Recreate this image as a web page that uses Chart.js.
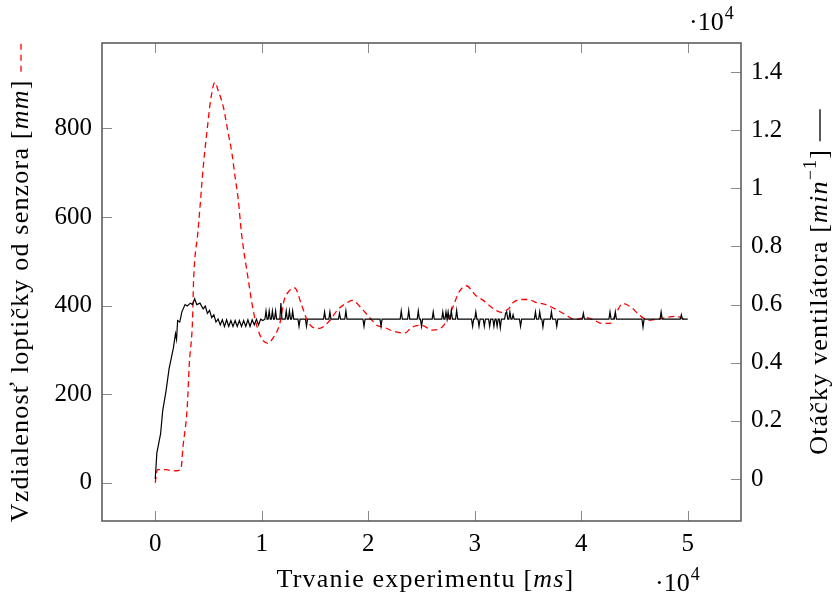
<!DOCTYPE html>
<html lang="sk">
<head>
<meta charset="UTF-8">
<title>Vzdialenosť loptičky a otáčky ventilátora</title>
<script src="https://cdn.jsdelivr.net/npm/chart.js@4.4.1/dist/chart.umd.min.js"></script>
<style>
  html, body { margin: 0; padding: 0; background: #fff; }
  #wrap { width: 836px; height: 596px; position: relative; }
</style>
</head>
<body>
<div id="wrap"><canvas id="chart"></canvas></div>
<script>
// ball distance from sensor [mm] over time [ms]
const distance = [
  [0, 0], [200, 30], [1000, 30], [1700, 27], [2400, 30], [2600, 80], [3000, 170],
  [3200, 270], [3500, 367], [3600, 457], [4000, 565], [4200, 622], [4500, 712],
  [4900, 803], [5200, 864], [5600, 904], [5900, 886], [6400, 848], [6800, 796],
  [7200, 744], [7500, 690], [7800, 638], [8100, 563], [8700, 464], [9200, 389],
  [9600, 349], [10100, 322], [10600, 315], [11000, 325], [11700, 360], [12100, 412],
  [12600, 434], [13100, 440], [13700, 405], [14200, 371], [14800, 351], [15400, 349],
  [16400, 367], [17100, 390], [17900, 405], [18500, 412], [19300, 396], [20100, 374],
  [20800, 356], [21500, 351], [22400, 342], [23400, 338], [24100, 351], [25000, 356],
  [26000, 345], [26900, 351], [27400, 367], [28000, 400], [28500, 430], [29200, 445],
  [30100, 423], [30800, 412], [31600, 396], [32500, 385], [33200, 394], [33600, 407],
  [34300, 414], [35000, 414], [35800, 407], [36600, 403], [37600, 392], [38500, 380],
  [39400, 369], [40400, 373], [41100, 369], [41900, 360], [42700, 360], [43300, 385],
  [43900, 405], [44700, 396], [45500, 378], [46300, 367], [47000, 369], [47900, 373],
  [48900, 376], [49700, 369]
]

// fan speed [min^-1] over time [ms]
const fanSpeed = [
  [0, 0], [150, 900], [500, 1550], [700, 2350], [1000, 3000], [1300, 3800], [1700, 4500],
  [1900, 5000], [2000, 4800], [2100, 5450], [2300, 5400], [2500, 5750], [2800, 6000],
  [3000, 5950], [3300, 6050], [3500, 6000], [3700, 6200], [3900, 6000], [4200, 6050],
  [4500, 5850], [4700, 5950], [4900, 5700], [5100, 5800], [5300, 5550], [5500, 5650],
  [5700, 5400], [5900, 5500], [6100, 5300],
  [6300, 5480], [6500, 5250], [6700, 5480], [6900, 5250], [7100, 5450], [7300, 5250],
  [7500, 5450], [7700, 5250], [7900, 5450], [8100, 5250], [8300, 5450], [8500, 5250],
  [8700, 5480], [8900, 5250], [9100, 5480], [9300, 5300], [9500, 5500], [9700, 5300],
  [9900, 5500], [10100, 5450],
  [10300, 5500], [10400, 5780], [10500, 5500], [10600, 5500], [10700, 5780], [10800, 5500],
  [10900, 5500], [11000, 5780], [11100, 5500], [11200, 5500], [11300, 5780], [11400, 5500],
  [11700, 5500], [11800, 6050], [11900, 5500], [12200, 5500], [12300, 5780], [12400, 5500],
  [12500, 5500], [12600, 5780], [12700, 5500], [12800, 5500], [12900, 5780], [13000, 5500],
  [13400, 5500], [13500, 5250], [13600, 5500], [14100, 5500], [14200, 5250], [14300, 5500],
  [15800, 5500], [15900, 5750], [16000, 5500], [16300, 5500], [16400, 5750], [16500, 5500],
  [17200, 5500], [17300, 5700], [17400, 5500], [17800, 5500], [17900, 5780], [18000, 5500],
  [19500, 5500], [19600, 5250], [19700, 5500], [21100, 5500], [21200, 5250], [21300, 5500],
  [23000, 5500], [23100, 5780], [23200, 5500], [23700, 5500], [23800, 5800], [23900, 5500],
  [24600, 5500], [24700, 5780], [24800, 5500], [24900, 5500], [25000, 5250], [25100, 5500],
  [26000, 5500], [26100, 5750], [26200, 5500], [26900, 5500], [27000, 5750], [27100, 5500],
  [27200, 5500], [27300, 5750], [27400, 5500], [27500, 5750], [27600, 5500], [27700, 5500],
  [27800, 5800], [27900, 5500], [28200, 5500], [28300, 5800], [28400, 5500], [29700, 5500],
  [29800, 5250], [29900, 5500], [30000, 5500], [30100, 5750], [30200, 5500], [30300, 5500],
  [30400, 5250], [30500, 5500], [30800, 5500], [30900, 5250], [31000, 5500], [31300, 5500],
  [31400, 5250], [31500, 5500], [31700, 5500], [31800, 5250], [31900, 5500], [32000, 5500],
  [32100, 5250], [32200, 5500], [32300, 5500], [32400, 5200], [32500, 5500], [32800, 5500],
  [32900, 5700], [33000, 5750], [33100, 5500], [33200, 5500], [33300, 5750], [33400, 5500],
  [33500, 5500], [33600, 5650], [33700, 5500], [34200, 5500], [34300, 5250], [34400, 5500],
  [35600, 5500], [35700, 5750], [35800, 5500], [36000, 5500], [36100, 5750], [36200, 5500],
  [36300, 5500], [36400, 5230], [36500, 5500], [37100, 5500], [37200, 5750], [37300, 5500],
  [37600, 5500], [37700, 5250], [37800, 5500], [40100, 5500], [40200, 5700], [40300, 5500],
  [42600, 5500], [42700, 5750], [42800, 5500], [43100, 5500], [43200, 5750], [43300, 5500],
  [45700, 5500], [45800, 5230], [45900, 5500], [47400, 5500], [47500, 5750], [47600, 5500],
  [49300, 5500], [49400, 5650], [49500, 5500], [50000, 5500]
]

const xTicks = [0, 10000, 20000, 30000, 40000, 50000]
const yTicks = [0, 200, 400, 600, 800]
const y1Ticks = [0, 2000, 4000, 6000, 8000, 10000, 12000, 14000]

const serif = "'Liberation Serif', 'DejaVu Serif', serif"
const tickFont = { family: serif, size: 25 }

const toXY = (rows) => rows.map(([x, y]) => ({ x, y }))
const fixTicks = (list) => (scale) => { scale.ticks = list.map((v) => ({ value: v })) }

// draw a row of text pieces with different fonts, centered on (0, 0)
function drawRuns(ctx, runs) {
  let total = 0
  for (const r of runs) {
    ctx.font = r.font || roman
    r.w = r.line ? r.line : ctx.measureText(r.text).width
    total += r.w
  }
  let x = -total / 2
  for (const r of runs) {
    if (r.line) {
      ctx.save()
      ctx.strokeStyle = r.color
      ctx.lineWidth = 1.3
      ctx.setLineDash(r.dash || [])
      ctx.beginPath()
      ctx.moveTo(x, -7)
      ctx.lineTo(x + r.w, -7)
      ctx.stroke()
      ctx.restore()
    } else {
      ctx.font = r.font
      ctx.fillText(r.text, x, r.dy || 0)
    }
    x += r.w
  }
}

const roman = `26px ${serif}`
const italic = `italic 26px ${serif}`
const small = `18px ${serif}`

const frame = {
  id: 'frame',
  afterDatasetsDraw(chart) {
    const { ctx, chartArea: a, scales } = chart
    const len = 10
    ctx.save()
    ctx.strokeStyle = '#8a8a8a'
    ctx.lineWidth = 1
    ctx.beginPath()
    for (const t of scales.x.ticks) {
      const px = Math.round(scales.x.getPixelForValue(t.value)) + 0.5
      ctx.moveTo(px, a.bottom); ctx.lineTo(px, a.bottom - len)
      ctx.moveTo(px, a.top); ctx.lineTo(px, a.top + len)
    }
    for (const t of scales.y.ticks) {
      const py = Math.round(scales.y.getPixelForValue(t.value)) + 0.5
      ctx.moveTo(a.left, py); ctx.lineTo(a.left + len, py)
    }
    for (const t of scales.y1.ticks) {
      const py = Math.round(scales.y1.getPixelForValue(t.value)) + 0.5
      ctx.moveTo(a.right, py); ctx.lineTo(a.right - len, py)
    }
    ctx.stroke()
    ctx.strokeStyle = '#5e5e5e'
    ctx.lineWidth = 1.6
    ctx.strokeRect(a.left, a.top, a.right - a.left, a.bottom - a.top)

    ctx.fillStyle = '#000'
    ctx.textBaseline = 'alphabetic'
    ctx.letterSpacing = '1.2px'

    // x title
    ctx.save()
    ctx.translate((a.left + a.right) / 2 + 4, 587)
    drawRuns(ctx, [
      { text: 'Trvanie experimentu [', font: roman },
      { text: 'ms', font: italic },
      { text: ']', font: roman }
    ])
    ctx.restore()

    // left y title
    ctx.save()
    ctx.translate(28, (a.top + a.bottom) / 2)
    ctx.rotate(-Math.PI / 2)
    drawRuns(ctx, [
      { text: 'Vzdialenosť loptičky od senzora [', font: roman },
      { text: 'mm', font: italic },
      { text: '] ', font: roman },
      { line: 30, color: '#ff0000', dash: [6, 5] }
    ])
    ctx.restore()

    // right y title
    ctx.save()
    ctx.translate(827, (a.top + a.bottom) / 2)
    ctx.rotate(-Math.PI / 2)
    drawRuns(ctx, [
      { text: 'Otáčky ventilátora [', font: roman },
      { text: 'min', font: italic },
      { text: '−1', font: small, dy: -11 },
      { text: '] ', font: roman },
      { line: 32, color: '#000' }
    ])
    ctx.restore()

    // axis multipliers
    ctx.letterSpacing = '0px'
    ctx.textAlign = 'left'
    const mult = (x, y) => {
      ctx.font = roman
      ctx.fillText('·10', x, y)
      const w = ctx.measureText('·10').width
      ctx.font = small
      ctx.fillText('4', x + w + 1, y - 11)
    }
    mult(655, 591)
    mult(689, 30)
    ctx.restore()
  }
}

new Chart(document.getElementById('chart'), {
  type: 'line',
  data: {
    datasets: [
      {
        label: 'Vzdialenosť loptičky od senzora',
        data: toXY(distance),
        yAxisID: 'y',
        borderColor: '#ff0000',
        borderWidth: 1.3,
        borderDash: [6, 4],
        cubicInterpolationMode: 'monotone',
        pointRadius: 0,
        order: 1
      },
      {
        label: 'Otáčky ventilátora',
        data: toXY(fanSpeed),
        yAxisID: 'y1',
        borderColor: '#000000',
        borderWidth: 1.2,
        tension: 0,
        pointRadius: 0,
        order: 0
      }
    ]
  },
  options: {
    responsive: true,
    maintainAspectRatio: false,
    animation: false,
    layout: { padding: { top: 43, left: 0, right: 0, bottom: 0 } },
    plugins: { legend: { display: false }, tooltip: { enabled: false } },
    scales: {
      x: {
        type: 'linear',
        min: -5000,
        max: 55000,
        afterBuildTicks: fixTicks(xTicks),
        afterFit: (s) => { s.height = 75 },
        grid: { display: false, drawTicks: false },
        border: { display: false },
        ticks: { font: tickFont, color: '#000', padding: 8, maxRotation: 0, autoSkip: false, callback: (v) => v / 10000 }
      },
      y: {
        position: 'left',
        min: -86,
        max: 993,
        afterBuildTicks: fixTicks(yTicks),
        afterFit: (s) => { s.width = 102 },
        grid: { display: false, drawTicks: false },
        border: { display: false },
        ticks: { font: tickFont, color: '#000', padding: 10, autoSkip: false }
      },
      y1: {
        position: 'right',
        min: -1445,
        max: 15000,
        afterBuildTicks: fixTicks(y1Ticks),
        afterFit: (s) => { s.width = 95 },
        grid: { display: false, drawTicks: false },
        border: { display: false },
        ticks: { font: tickFont, color: '#000', padding: 10, autoSkip: false, callback: (v) => String(+(v / 10000).toFixed(1)) }
      }
    }
  },
  plugins: [frame]
})
</script>
</body>
</html>
